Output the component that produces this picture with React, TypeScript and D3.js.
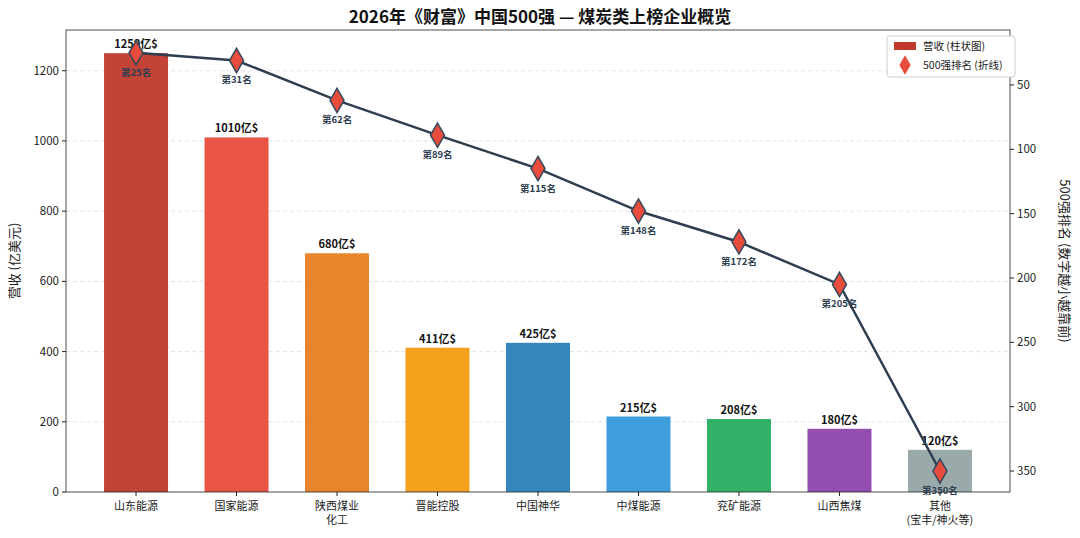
import React from "react";
import * as d3 from "d3";

const categories = ["山东能源", "国家能源", "陕西煤业\n化工", "晋能控股", "中国神华", "中煤能源", "兖矿能源", "山西焦煤", "其他\n(宝丰/神火等)"];
const revenue = [1250, 1010, 680, 411, 425, 215, 208, 180, 120];
const ranks = [25, 31, 62, 89, 115, 148, 172, 205, 350];
const colors = ["#c0392b", "#e74c3c", "#e67e22", "#f39c12", "#2980b9", "#3498db", "#27ae60", "#8e44ad", "#95a5a6"];
const leftTicks = [0, 200, 400, 600, 800, 1000, 1200];
const rightTicks = [50, 100, 150, 200, 250, 300, 350];

const W = 1080, H = 538;
const L = 66, R = 1010, T = 30, B = 492;
const FONT = "'Noto Sans CJK SC', 'Noto Sans', sans-serif";

export default function App() {
  const x = d3.scalePoint<number>().domain(d3.range(categories.length)).range([L, R]).padding(0.697);
  const y = d3.scaleLinear().domain([0, 1316]).range([B, T]);
  const yr = d3.scaleLinear().domain([7.3, 366.3]).range([T, B]);
  const bw = 64;
  const line = d3.line<number>().x((_, i) => x(i)!).y(d => yr(d));
  const diamond = d3.symbol().type(d3.symbolDiamond).size(170)()!;
  return (
    <svg width={W} height={H} style={{ position: "absolute", left: 0, top: 0, fontFamily: FONT }}>
      <rect width={W} height={H} fill="#fff" />
      <text x={540} y={23} textAnchor="middle" fontSize={17} fontWeight="bold" fill="#111">2026年《财富》中国500强 — 煤炭类上榜企业概览</text>
      {leftTicks.slice(1).map(t => (
        <line key={t} x1={L} x2={R} y1={y(t)} y2={y(t)} stroke="#ddd" strokeDasharray="4,3" strokeWidth={0.8} />
      ))}
      {revenue.map((v, i) => (
        <g key={i}>
          <rect x={x(i)! - bw / 2} y={y(v)} width={bw} height={B - y(v)} fill={colors[i]} opacity={0.95} />
          <text x={x(i)} y={y(v) - 5} textAnchor="middle" fontSize={11} fontWeight="bold" fill="#111">{v}亿$</text>
        </g>
      ))}
      <rect x={L} y={T} width={R - L} height={B - T} fill="none" stroke="#222" strokeWidth={0.8} />
      {leftTicks.map(t => (
        <g key={t}>
          <line x1={L - 4} x2={L} y1={y(t)} y2={y(t)} stroke="#222" />
          <text x={L - 7} y={y(t) + 4} textAnchor="end" fontSize={11.5} fill="#222">{t}</text>
        </g>
      ))}
      {rightTicks.map(t => (
        <g key={t}>
          <line x1={R} x2={R + 4} y1={yr(t)} y2={yr(t)} stroke="#222" />
          <text x={R + 7} y={yr(t) + 4} textAnchor="start" fontSize={11.5} fill="#222">{t}</text>
        </g>
      ))}
      {categories.map((c, i) => (
        <g key={i}>
          <line x1={x(i)} x2={x(i)} y1={B} y2={B + 4} stroke="#222" />
          {c.split("\n").map((s, j) => (
            <text key={j} x={x(i)} y={B + 18 + j * 14} textAnchor="middle" fontSize={11} fill="#222">{s}</text>
          ))}
        </g>
      ))}
      <text transform={`translate(19,${(T + B) / 2}) rotate(-90)`} textAnchor="middle" fontSize={13} fill="#222">营收 (亿美元)</text>
      <text transform={`translate(1060,${(T + B) / 2}) rotate(90)`} textAnchor="middle" fontSize={13} fill="#222">500强排名 (数字越小越靠前)</text>
      <path d={line(ranks)!} fill="none" stroke="#2c3e50" strokeWidth={2.5} />
      {ranks.map((r, i) => (
        <g key={i}>
          <path d={diamond} transform={`translate(${x(i)},${yr(r)})`} fill="#e74c3c" stroke="#34495e" strokeWidth={1.5} />
          <text x={x(i)} y={yr(r) + 23} textAnchor="middle" fontSize={9.5} fontWeight="bold" fill="#2c3e50">第{r}名</text>
        </g>
      ))}
      <g transform="translate(887,36)">
        <rect width={128} height={41} rx={3} fill="#fff" stroke="#ccc" />
        <rect x={7} y={6} width={22} height={8} fill="#c0392b" />
        <text x={36} y={14} fontSize={10.5} fill="#222">营收 (柱状图)</text>
        <path d={d3.symbol().type(d3.symbolDiamond).size(110)()!} transform="translate(18,29)" fill="#e74c3c" />
        <text x={36} y={33} fontSize={10.5} fill="#222">500强排名 (折线)</text>
      </g>
    </svg>
  );
}
